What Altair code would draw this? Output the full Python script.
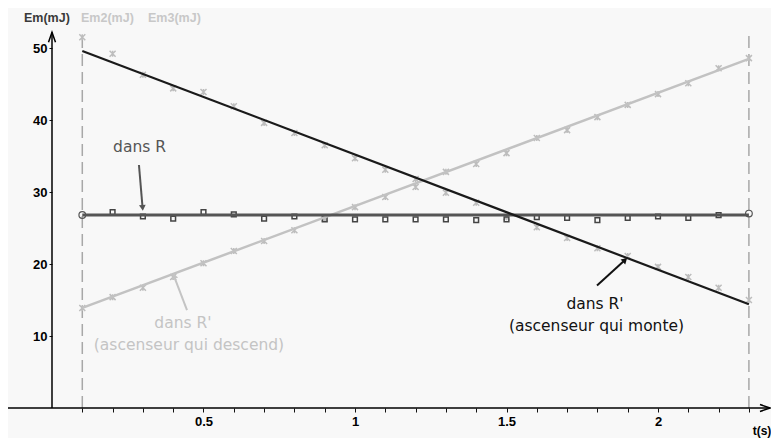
import altair as alt
import pandas as pd

# ---------------- data ----------------
t_s = [0.1, 0.2, 0.3, 0.4, 0.5, 0.6, 0.7, 0.8, 0.9, 1.0, 1.1, 1.2,
       1.3, 1.4, 1.5, 1.6, 1.7, 1.8, 1.9, 2.0, 2.1, 2.2, 2.3]

# Em (dans R) - squares
em_r = [26.8, 27.2, 26.6, 26.3, 27.2, 26.9, 26.3, 26.6, 26.2, 26.2, 26.2, 26.2,
        26.2, 26.1, 26.2, 26.5, 26.4, 26.1, 26.4, 26.6, 26.4, 26.8, 27.0]
# Em2 (ascenseur qui descend) - rising
em2 = [13.9, 15.4, 16.7, 18.2, 20.1, 21.8, 23.2, 24.7, 26.3, 27.9, 29.3, 30.7,
       32.8, 33.9, 35.4, 37.5, 38.6, 40.4, 42.1, 43.6, 45.1, 47.2, 48.6]
# Em3 (ascenseur qui monte) - falling
em3 = [51.5, 49.2, 46.3, 44.4, 43.9, 41.9, 39.6, 38.2, 36.5, 34.7, 33.1, 31.8,
       29.9, 28.5, 26.5, 25.1, 23.6, 22.2, 21.1, 19.6, 18.2, 16.7, 15.0]

# modelled straight lines (end points)
fit_t = [0.1, 2.3]
fit_em_r = [26.8, 26.8]
fit_em2 = [13.9, 48.5]
fit_em3 = [49.6, 14.4]

cursor_t = [0.1, 2.3]
x_tick_values = [0.1, 0.2, 0.3, 0.4, 0.5, 0.6, 0.7, 0.8, 0.9, 1.0, 1.1, 1.2,
                 1.3, 1.4, 1.5, 1.6, 1.7, 1.8, 1.9, 2.0, 2.1, 2.2, 2.3]
y_tick_values = [10, 20, 30, 40, 50]

legend_labels = ["Em(mJ)", "Em2(mJ)", "Em3(mJ)"]

# ---------------- scales / axes ----------------
X_DOMAIN = [-0.1452, 2.3729]
Y_DOMAIN = [0, 55.56]
LABEL_FONT = "Liberation Sans, Arial, sans-serif"
TEXT_FONT = "DejaVu Sans, Verdana, sans-serif"

x_axis = alt.Axis(values=x_tick_values, title=None, grid=False, domain=False,
                  tickSize=4, tickColor="#111", labelPadding=3,
                  labelExpr="abs(datum.value*2 - round(datum.value*2)) < 0.01 ? format(datum.value, '~g') : ''",
                  labelFont=LABEL_FONT, labelFontSize=13, labelFontWeight="bold",
                  labelColor="#000", labelOverlap=False, labelFlush=False)
y_axis = alt.Axis(values=y_tick_values, title=None, grid=False, domain=False,
                  offset=-44, tickSize=3, tickColor="#111", labelPadding=2,
                  labelFont=LABEL_FONT, labelFontSize=13, labelFontWeight="bold",
                  labelColor="#000")

xs = alt.Scale(domain=X_DOMAIN, nice=False, zero=False)
ys = alt.Scale(domain=Y_DOMAIN, nice=False, zero=False)


def X(f="t"):
    return alt.X(f"{f}:Q", scale=xs, axis=x_axis)


def Y(f="v"):
    return alt.Y(f"{f}:Q", scale=ys, axis=y_axis)


layers = []

# dashed cursor lines
df_cur = pd.DataFrame({"t": cursor_t, "y1": [0, 0], "y2": [52.5, 52.5]})
layers.append(alt.Chart(df_cur).mark_rule(color="#a8a8a8", strokeWidth=1.5,
                                          strokeDash=[12, 6])
              .encode(x=X("t"), y=Y("y1"), y2="y2"))

# axis lines
df_yax = pd.DataFrame({"t": [0.0], "y1": [0.0], "y2": [52.2]})
layers.append(alt.Chart(df_yax).mark_rule(color="#000", strokeWidth=1.5)
              .encode(x=X("t"), y=Y("y1"), y2="y2"))
df_xax = pd.DataFrame({"t": [X_DOMAIN[0]], "t2": [2.3696], "v": [0.0]})
layers.append(alt.Chart(df_xax).mark_rule(color="#000", strokeWidth=1.5)
              .encode(x=X("t"), x2="t2", y=Y("v")))
# arrow heads of axes
df_yarr = pd.DataFrame({"t": [0.0], "v": [51.5]})
layers.append(alt.Chart(df_yarr).mark_point(shape="M-0.7,1L0,-1L0.7,1", filled=False,
                                            color="#000", strokeWidth=1.5, size=100, opacity=1)
              .encode(x=X("t"), y=Y("v")))
df_xarr = pd.DataFrame({"t": [2.353], "v": [0.0]})
layers.append(alt.Chart(df_xarr).mark_point(shape="M-1,-0.7L1,0L-1,0.7", filled=False,
                                            color="#000", strokeWidth=1.5, size=100, opacity=1)
              .encode(x=X("t"), y=Y("v")))

# measured points
df = pd.DataFrame({"t": t_s, "em_r": em_r, "em2": em2, "em3": em3})
cross = "M-1,-1L1,1M-1,1L1,-1M0,-1L0,1"
for col in ["em3", "em2"]:
    layers.append(alt.Chart(df).mark_point(shape=cross, filled=False, color="#bdbdbd",
                                           strokeWidth=1.5, size=36, opacity=1)
                  .encode(x=X("t"), y=Y(col)))
df_sq = df.iloc[1:-1]
layers.append(alt.Chart(df_sq).mark_point(shape="square", filled=False, color="#444",
                                          strokeWidth=1.5, size=22, opacity=1)
              .encode(x=X("t"), y=Y("em_r")))
df_endc = df.iloc[[0, -1]]
layers.append(alt.Chart(df_endc).mark_point(shape="circle", filled=False, color="#555",
                                            strokeWidth=1.2, size=45, opacity=1)
              .encode(x=X("t"), y=Y("em_r")))

# model lines
df_fit = pd.DataFrame({"t": fit_t, "em_r": fit_em_r, "em2": fit_em2, "em3": fit_em3})
layers.append(alt.Chart(df_fit).mark_line(color="#c2c2c2", strokeWidth=2.5)
              .encode(x=X("t"), y=Y("em2")))
layers.append(alt.Chart(df_fit).mark_line(color="#555555", strokeWidth=3)
              .encode(x=X("t"), y=Y("em_r")))
layers.append(alt.Chart(df_fit).mark_line(color="#1a1a1a", strokeWidth=2.2)
              .encode(x=X("t"), y=Y("em3")))

# annotations
ann = pd.DataFrame({
    "text": ["dans R", "dans R'", "(ascenseur qui descend)", "dans R'", "(ascenseur qui monte)"],
    "t": [0.289, 0.432, 0.452, 1.792, 1.797],
    "v": [36.25, 11.8, 8.75, 14.4, 11.35],
    "c": ["#555555", "#c4c4c4", "#c4c4c4", "#111111", "#111111"],
})
layers.append(alt.Chart(ann).mark_text(font=TEXT_FONT, fontSize=15.5, align="center",
                                       baseline="middle")
              .encode(x=X("t"), y=Y("v"), text="text:N",
                      color=alt.Color("c:N", scale=None)))

arrows = pd.DataFrame({
    "t": [0.287, 0.4455, 1.7987], "v": [33.75, 13.6, 17.0],
    "t2": [0.299, 0.4026, 1.8911], "v2": [27.8, 18.33, 20.56],
    "c": ["#555555", "#c4c4c4", "#111111"],
    "ang": [175, 340, 46],
})
layers.append(alt.Chart(arrows).mark_rule(strokeWidth=2)
              .encode(x=X("t"), y=Y("v"), x2="t2", y2="v2",
                      color=alt.Color("c:N", scale=None)))
layers.append(alt.Chart(arrows).mark_point(shape="triangle-up", filled=True, size=45, opacity=1)
              .encode(x=X("t2"), y=Y("v2"), angle=alt.Angle("ang:Q", scale=None),
                      color=alt.Color("c:N", scale=None)))

# header legend texts
hdr_x = [16, 73, 140]
hdr_c = ["#3a3a3a", "#c8c8c8", "#c8c8c8"]
for lab, hx, hc in zip(legend_labels, hdr_x, hdr_c):
    layers.append(alt.Chart(pd.DataFrame({"label": [lab]}))
                  .mark_text(font=LABEL_FONT, fontSize=12.5, fontWeight="bold",
                             align="left", baseline="middle", color=hc)
                  .encode(x=alt.value(hx), y=alt.value(10), text="label:N"))

# x-axis title t(s)
layers.append(alt.Chart(pd.DataFrame({"label": ["t(s)"]}))
              .mark_text(font=LABEL_FONT, fontSize=12, fontWeight="bold",
                         align="center", baseline="middle", color="#000")
              .encode(x=alt.value(754), y=alt.value(423), text="label:N"))

chart = alt.layer(*layers).properties(
    width=763, height=400,
    autosize=alt.AutoSizeParams(type="none"),
    padding={"left": 0, "top": 0, "right": 0, "bottom": 30},
    background="#f8f8f8",
).configure_view(stroke=None)

chart.save("out.html", embed_options={"renderer": "svg", "actions": False})
